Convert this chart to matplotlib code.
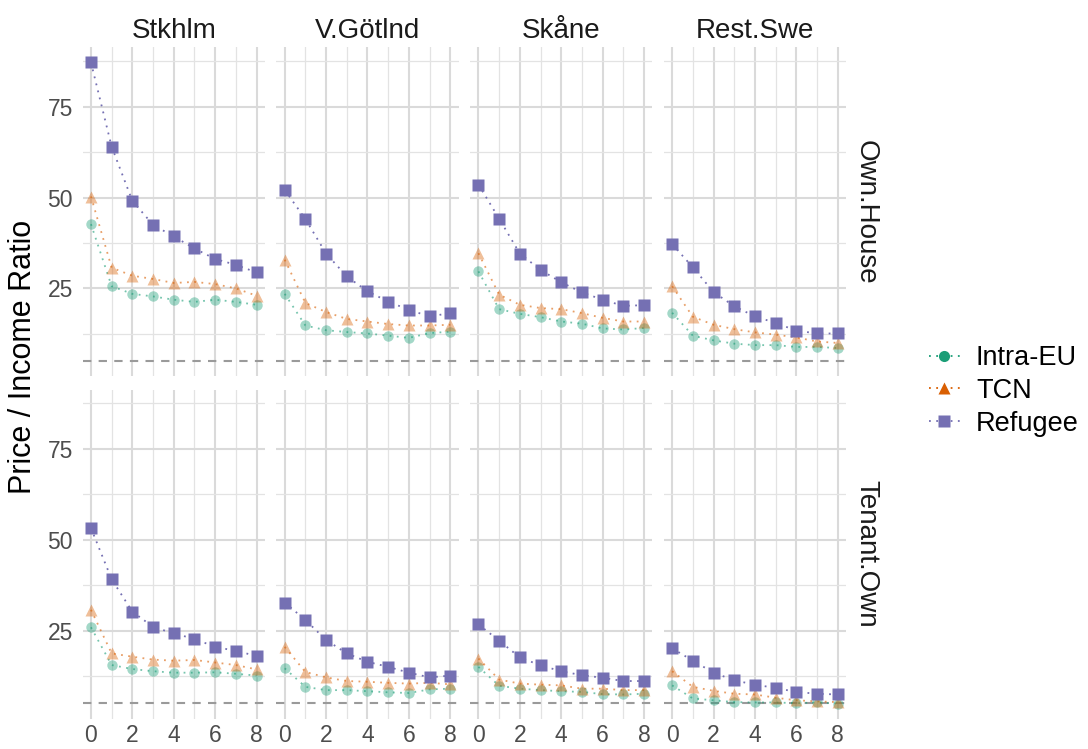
import matplotlib
matplotlib.use("Agg")
import matplotlib.pyplot as plt
from matplotlib.lines import Line2D
from matplotlib.ticker import MultipleLocator

plt.rcParams["font.family"] = ["Liberation Sans", "DejaVu Sans"]

# data
years = [0, 1, 2, 3, 4, 5, 6, 7, 8]
regions = ["Stkhlm", "V.Götlnd", "Skåne", "Rest.Swe"]
tenures = ["Own.House", "Tenant.Own"]
groups = ["Intra-EU", "TCN", "Refugee"]
threshold = 5

# Own.House, one row per region
own_intra_eu = [
    [42.7, 25.6, 23.5, 22.8, 21.9, 21.3, 21.9, 21.3, 20.5],
    [23.5, 14.8, 13.5, 13.0, 12.6, 12.0, 11.4, 12.7, 13.1],
    [29.7, 19.3, 18.0, 17.1, 15.9, 15.3, 14.0, 13.7, 14.1],
    [18.3, 12.0, 10.7, 9.8, 9.4, 9.4, 8.9, 8.9, 8.6],
]
own_tcn = [
    [50.3, 30.7, 28.5, 27.6, 26.5, 26.8, 26.2, 25.0, 23.0],
    [32.9, 21.0, 18.5, 16.6, 15.9, 15.2, 14.8, 14.8, 15.0],
    [34.7, 23.3, 20.5, 19.6, 19.3, 18.2, 16.9, 15.9, 15.9],
    [25.6, 17.2, 15.0, 13.8, 12.9, 12.3, 11.5, 10.4, 10.0],
]
own_refugee = [
    [87.2, 64.0, 49.1, 42.5, 39.3, 36.0, 33.1, 31.5, 29.4],
    [52.1, 44.1, 34.6, 28.3, 24.2, 21.4, 19.1, 17.3, 18.2],
    [53.6, 44.2, 34.6, 30.1, 26.7, 23.9, 21.9, 20.2, 20.4],
    [37.2, 30.8, 24.0, 20.1, 17.3, 15.5, 13.4, 12.6, 12.6],
]

# Tenant.Own, one row per region
ten_intra_eu = [
    [25.9, 15.5, 14.4, 13.8, 13.4, 13.4, 13.5, 13.1, 12.6],
    [14.6, 9.5, 8.6, 8.6, 8.3, 8.0, 7.8, 8.8, 9.0],
    [15.0, 9.8, 9.0, 8.6, 8.3, 8.1, 7.5, 7.4, 7.6],
    [9.9, 6.3, 5.8, 5.3, 5.2, 5.2, 5.0, 5.2, 4.9],
]
ten_tcn = [
    [30.7, 18.7, 17.8, 17.0, 16.7, 16.9, 16.2, 15.5, 14.3],
    [20.5, 13.6, 12.1, 11.1, 10.9, 10.6, 10.4, 10.6, 10.2],
    [17.3, 11.5, 10.4, 10.1, 9.9, 9.0, 9.0, 8.6, 8.6],
    [13.8, 9.5, 8.4, 7.6, 7.4, 6.5, 5.8, 5.5, 5.3],
]
ten_refugee = [
    [53.2, 39.1, 30.2, 26.0, 24.2, 22.7, 20.5, 19.4, 18.0],
    [32.7, 27.9, 22.4, 18.7, 16.4, 15.0, 13.4, 12.1, 12.6],
    [26.7, 22.2, 17.6, 15.4, 13.8, 12.7, 12.0, 11.1, 11.1],
    [20.1, 16.7, 13.4, 11.3, 10.1, 9.2, 8.1, 7.6, 7.4],
]

panel_data = {
    "Own.House": [own_intra_eu, own_tcn, own_refugee],
    "Tenant.Own": [ten_intra_eu, ten_tcn, ten_refugee],
}

colors = ["#1B9E77", "#D95F02", "#7570B3"]
markers = ["o", "^", "s"]
msizes = [7.5, 9, 8]
alphas = [0.4, 0.4, 1.0]
dotted = (0, (1, 3))

# ggplot-like limits (5% expansion)
all_vals = [v for t in tenures for g in panel_data[t] for r in g for v in r] + [threshold]
lo, hi = min(all_vals), max(all_vals)
pad = (hi - lo) * 0.05

fig = plt.figure(figsize=(10.88, 7.49), dpi=100)
axes = fig.subplots(
    2, 4, sharex=True, sharey=True,
    gridspec_kw=dict(left=0.076, right=0.7776, top=0.9366, bottom=0.0407,
                     wspace=0.0636, hspace=0.04),
)

for i, tenure in enumerate(tenures):
    for j, region in enumerate(regions):
        ax = axes[i, j]
        ax.axhline(threshold, color="#9A9A9A", lw=1.5, ls=(0, (4, 3.5)), zorder=1)
        for k, group in enumerate(groups):
            vals = panel_data[tenure][k][j]
            ax.plot(years, vals, color=colors[k], ls=dotted, lw=1.3,
                    alpha=0.6 if k < 2 else 1.0, zorder=2)
            ax.plot(years, vals, ls="none", marker=markers[k], ms=msizes[k],
                    color=colors[k], alpha=alphas[k], mec="none", zorder=3)

        ax.set_xlim(-0.4, 8.4)
        ax.set_ylim(lo - pad, hi + pad)
        ax.xaxis.set_major_locator(MultipleLocator(2))
        ax.xaxis.set_minor_locator(MultipleLocator(1))
        ax.yaxis.set_major_locator(MultipleLocator(25))
        ax.yaxis.set_minor_locator(MultipleLocator(12.5))
        ax.grid(which="major", color="#DADADA", lw=1.5)
        ax.grid(which="minor", color="#E3E3E3", lw=0.9)
        ax.set_axisbelow(True)
        for s in ax.spines.values():
            s.set_visible(False)
        ax.tick_params(which="both", length=0, labelsize=16.5,
                       labelcolor="#4D4D4D", pad=4)
        ax.tick_params(axis="y", pad=7)

        if i == 0:
            ax.set_title(region, fontsize=20, color="#1A1A1A", pad=7)
        if j == len(regions) - 1:
            ax.text(1.11, 0.5, tenure, transform=ax.transAxes, rotation=-90,
                    ha="center", va="center", fontsize=20, color="#1A1A1A")

fig.text(0.021, 0.524, "Price / Income Ratio", rotation=90, ha="center",
         va="center", fontsize=22, color="#000000")

handles = [
    Line2D([0], [0], color=c, ls=dotted, lw=1.3, marker=m, ms=8, mec="none")
    for c, m in zip(colors, markers)
]
fig.legend(handles, groups, loc="center left", bbox_to_anchor=(0.831, 0.478),
           frameon=False, fontsize=19.5, handlelength=1.15, handletextpad=0.6,
           labelspacing=0.25)

fig.savefig("out.png", dpi=100, facecolor="white")
